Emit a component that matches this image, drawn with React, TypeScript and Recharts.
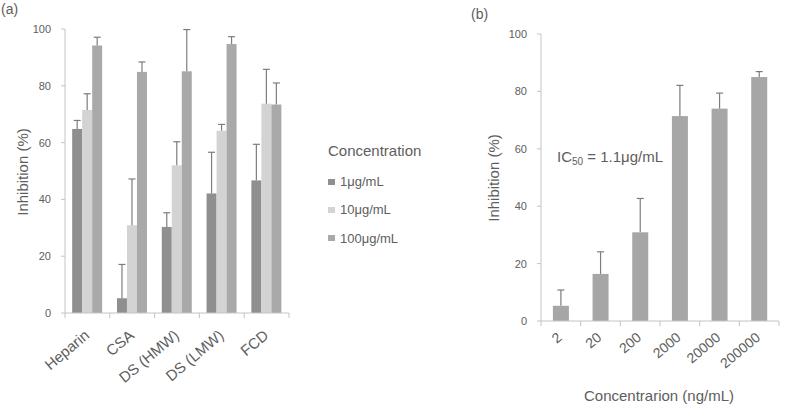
import React from 'react';
import { BarChart, Bar, XAxis, YAxis } from 'recharts';

// panel (a): inhibition by polysaccharide and concentration
const categoriesA = ['Heparin', 'CSA', 'DS (HMW)', 'DS (LMW)', 'FCD'];
const dose1 = [64.8, 5.2, 30.3, 42.1, 46.7];
const dose1Err = [3, 11.9, 5, 14.5, 12.7];
const dose10 = [71.5, 30.9, 52, 64.2, 73.7];
const dose10Err = [5.7, 16.3, 8.3, 2.2, 12.1];
const dose100 = [94.2, 84.9, 85.1, 94.7, 73.4];
const dose100Err = [2.9, 3.5, 14.7, 2.6, 7.6];

// panel (b): dose response
const categoriesB = ['2', '20', '200', '2000', '20000', '200000'];
const inhibitionB = [5.3, 16.4, 30.9, 71.4, 74, 85];
const inhibitionBErr = [5.5, 7.7, 11.8, 10.7, 5.4, 1.9];

const yTicks = [0, 20, 40, 60, 80, 100];

const seriesA = [
  { key: 'd1', err: 'e1', name: '1μg/mL', color: '#8f8f8f' },
  { key: 'd10', err: 'e10', name: '10μg/mL', color: '#d3d3d3' },
  { key: 'd100', err: 'e100', name: '100μg/mL', color: '#a9a9a9' },
];

const dataA = categoriesA.map((name, i) => ({
  name,
  d1: dose1[i],
  e1: dose1Err[i],
  d10: dose10[i],
  e10: dose10Err[i],
  d100: dose100[i],
  e100: dose100Err[i],
}));

const dataB = categoriesB.map((name, i) => ({
  name,
  v: inhibitionB[i],
  e: inhibitionBErr[i],
}));

const FONT = '"Liberation Sans", Arial, sans-serif';
const TEXT = '#5e5e5e';
const AXIS = '#c4c4c4';
const ERR = '#7d7d7d';

// bar with an upper-only error bar, scaled from the bar's own height
const barWithError = (valueKey: string, errKey: string) => (props: any) => {
  const { x, y, width, height, fill, payload } = props;
  const v = payload[valueKey];
  const e = payload[errKey];
  const pxPerUnit = v ? height / v : 0;
  const top = y - e * pxPerUnit;
  const cx = x + width / 2;
  return (
    <g>
      <rect x={x} y={y} width={width} height={height} fill={fill} />
      <line x1={cx} y1={y} x2={cx} y2={top} stroke={ERR} strokeWidth={1.2} />
      <line x1={cx - 3.5} y1={top} x2={cx + 3.5} y2={top} stroke={ERR} strokeWidth={1.2} />
    </g>
  );
};

const makeTick = (band: number, count: number, fontSize: number, dx: number, dy: number) => (props: any) => {
  const { x, y, payload, index } = props;
  const tx = x + dx;
  const ty = y + dy;
  return (
    <g>
      <line x1={x - band / 2} y1={y} x2={x - band / 2} y2={y + 5} stroke={AXIS} />
      {index === count - 1 && <line x1={x + band / 2} y1={y} x2={x + band / 2} y2={y + 5} stroke={AXIS} />}
      <text
        x={tx}
        y={ty}
        textAnchor="end"
        transform={`rotate(-40 ${tx} ${ty})`}
        fontSize={fontSize}
        fill={TEXT}
        fontFamily={FONT}
      >
        {payload.value}
      </text>
    </g>
  );
};

const YTick = (props: any) => {
  const { x, y, payload } = props;
  return (
    <text x={x} y={y} dy={4} textAnchor="end" fontSize={11} fill={TEXT} fontFamily={FONT}>
      {payload.value}
    </text>
  );
};

const tickA = makeTick(224 / categoriesA.length, categoriesA.length, 15, 3, 24);
const tickB = makeTick(238 / categoriesB.length, categoriesB.length, 14, 2, 18);

const abs = (left: number, top: number, extra: React.CSSProperties = {}): React.CSSProperties => ({
  position: 'absolute',
  left,
  top,
  fontFamily: FONT,
  color: TEXT,
  whiteSpace: 'nowrap',
  lineHeight: 1,
  ...extra,
});

export default function App() {
  return (
    <div style={{ position: 'absolute', left: 0, top: 0, width: 787, height: 405, background: '#fff', overflow: 'hidden' }}>
      <div style={abs(1, 2, { fontSize: 14 })}>(a)</div>
      <div style={abs(471, 7, { fontSize: 14 })}>(b)</div>

      <div style={{ position: 'absolute', left: 0, top: 0 }}>
        <BarChart
          width={300}
          height={405}
          data={dataA}
          margin={{ top: 29, right: 11, left: 25, bottom: 32 }}
          barCategoryGap="16%"
          barGap={0}
        >
          <XAxis
            dataKey="name"
            height={60}
            stroke={AXIS}
            tickLine={false}
            tickSize={0}
            tickMargin={0}
            interval={0}
            tick={tickA}
          />
          <YAxis
            width={40}
            domain={[0, 100]}
            ticks={yTicks}
            stroke={AXIS}
            tickSize={4}
            tickMargin={10}
            tick={YTick}
          />
          {seriesA.map((s) => (
            <Bar
              key={s.key}
              dataKey={s.key}
              name={s.name}
              fill={s.color}
              isAnimationActive={false}
              shape={barWithError(s.key, s.err)}
            />
          ))}
        </BarChart>
      </div>

      <div style={abs(22, 172, { fontSize: 15, transform: 'translate(-50%, -50%) rotate(-90deg)' })}>Inhibition (%)</div>

      <div style={abs(328, 143, { fontSize: 15 })}>Concentration</div>
      {seriesA.map((s, i) => (
        <div key={s.key} style={abs(328, 175 + i * 28.4, { fontSize: 13, display: 'flex', alignItems: 'center' })}>
          <span style={{ display: 'inline-block', width: 7, height: 6, background: s.color, marginRight: 5 }} />
          {s.name}
        </div>
      ))}

      <div style={{ position: 'absolute', left: 460, top: 0 }}>
        <BarChart
          width={327}
          height={405}
          data={dataB}
          margin={{ top: 34, right: 8, left: 41, bottom: 34 }}
          barCategoryGap="30%"
        >
          <XAxis
            dataKey="name"
            height={50}
            stroke={AXIS}
            tickLine={false}
            tickSize={0}
            tickMargin={0}
            interval={0}
            tick={tickB}
          />
          <YAxis
            width={40}
            domain={[0, 100]}
            ticks={yTicks}
            stroke={AXIS}
            tickSize={4}
            tickMargin={10}
            tick={YTick}
          />
          <Bar dataKey="v" fill="#a6a6a6" isAnimationActive={false} shape={barWithError('v', 'e')} />
        </BarChart>
      </div>

      <div style={abs(493, 178, { fontSize: 15, transform: 'translate(-50%, -50%) rotate(-90deg)' })}>Inhibition (%)</div>
      <div style={abs(557, 149, { fontSize: 15 })}>
        IC<span style={{ fontSize: 10, verticalAlign: -3 }}>50</span> = 1.1μg/mL
      </div>
      <div style={abs(659, 388, { fontSize: 15, transform: 'translateX(-50%)' })}>Concentrarion (ng/mL)</div>
    </div>
  );
}
